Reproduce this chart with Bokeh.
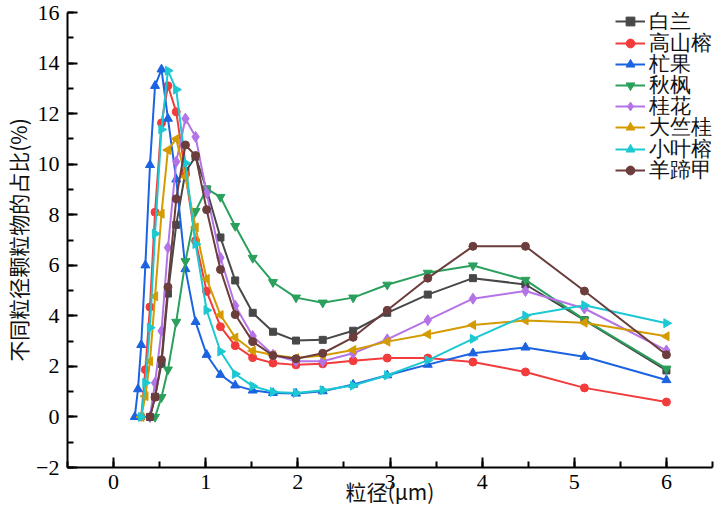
import numpy as np
from bokeh.plotting import figure
from bokeh.models import Range1d, Legend, LegendItem, FixedTicker
from bokeh.embed import file_html
from bokeh.resources import INLINE

# particle size grid (µm)
size_grid = [0.23, 0.265, 0.30, 0.345, 0.395, 0.45, 0.52, 0.59, 0.68, 0.78, 0.89,
             1.01, 1.16, 1.32, 1.51, 1.73, 1.98, 2.27, 2.60, 2.97, 3.41, 3.90,
             4.47, 5.11, 6.0]

# each series covers the tail of the grid
bailan = [0, 0.8, 2.1, 4.88, 7.6, 9.7, 10.3, 9.0, 7.1, 5.4, 4.12, 3.37, 3.02,
          3.05, 3.41, 4.12, 4.84, 5.49, 5.24, 3.83, 1.84]
gaoshanrong = [0, 1.87, 4.35, 8.1, 11.63, 13.1, 12.07, 9.6, 6.97, 4.97, 3.57, 2.82,
               2.35, 2.13, 2.06, 2.1, 2.22, 2.33, 2.33, 2.17, 1.78, 1.15, 0.59]
mangguo = [0, 1.1, 2.85, 6.0, 9.97, 13.1, 13.75, 11.8, 9.4, 5.85, 3.76, 2.46, 1.67,
           1.25, 1.05, 0.95, 0.93, 1.02, 1.28, 1.65, 2.07, 2.52, 2.75, 2.38, 1.46]
qiufeng = [0, 0.78, 1.87, 3.76, 6.16, 8.14, 9.03, 8.7, 7.55, 6.29, 5.33, 4.72, 4.52,
           4.72, 5.23, 5.7, 5.99, 5.42, 3.85, 1.91]
guihua = [0, 1.35, 3.4, 6.7, 10.1, 11.8, 11.08, 8.86, 6.3, 4.4, 3.2, 2.46, 2.2, 2.2,
          2.52, 3.07, 3.83, 4.68, 4.98, 4.29, 2.63]
dazhugui = [0, 0.82, 2.2, 4.77, 8.04, 10.56, 11.0, 9.5, 7.5, 5.46, 4.03, 3.14, 2.62,
            2.45, 2.33, 2.43, 2.65, 2.98, 3.27, 3.64, 3.82, 3.73, 3.19]
xiaoyerong = [0, 1.35, 3.53, 7.25, 11.37, 13.7, 12.95, 10.04, 6.84, 4.22, 2.59, 1.7,
              1.22, 0.99, 0.95, 1.06, 1.24, 1.65, 2.24, 3.09, 4.01, 4.42, 3.71]
yangtijia = [0, 0.78, 2.26, 5.14, 8.63, 10.76, 10.34, 8.2, 5.83, 4.05, 2.98, 2.43,
             2.3, 2.52, 3.15, 4.22, 5.49, 6.75, 6.75, 4.98, 2.46]

names = ["白兰", "高山榕", "杧果", "秋枫", "桂花", "大竺桂", "小叶榕", "羊蹄甲"]
series = [bailan, gaoshanrong, mangguo, qiufeng, guihua, dazhugui, xiaoyerong, yangtijia]
colors = ["#484848", "#f23c3c", "#1b63e0", "#2aa05c", "#b473e6", "#d49b00", "#1cc8d2", "#6b3d3d"]
markers = ["square", "circle", "triangle", "inverted_triangle", "diamond", "triangle", "triangle", "circle"]
angles = [0, 0, 0, 0, 0, np.pi / 2, -np.pi / 2, 0]
msizes = [7, 8, 9, 9, 11, 9, 9, 8]

x_ticks = [0, 1, 2, 3, 4, 5, 6]
y_ticks = [-2, 0, 2, 4, 6, 8, 10, 12, 14, 16]

W, H = 724, 512
B_TOP, B_BOTTOM = 12, 45
FRAME_H = H - B_TOP - B_BOTTOM

p = figure(width=W, height=H, output_backend="svg", toolbar_location=None,
           x_range=Range1d(-0.5, 6.5), y_range=Range1d(-2, 16),
           min_border_left=59, min_border_right=12, min_border_top=B_TOP,
           min_border_bottom=B_BOTTOM)
p.outline_line_color = None
p.xgrid.visible = False
p.ygrid.visible = False

# legend rows: one small legend per series so that rows sit close together
ROW_STEP = 21.2
ROW_BOX = 23
for i, (name, ys, c, m, a, s) in enumerate(zip(names, series, colors, markers, angles, msizes)):
    xs = size_grid[-len(ys):]
    r1 = p.line(xs, ys, line_color=c, line_width=2)
    r2 = p.scatter(xs, ys, marker=m, angle=a, size=s, fill_color=c, line_color=c)
    centre_from_top = 12 + ROW_STEP * i
    vy = int(round(FRAME_H - centre_from_top - ROW_BOX / 2))
    lg = Legend(items=[LegendItem(label=name, renderers=[r1, r2])],
                location=(548, vy), border_line_color=None,
                background_fill_alpha=0, padding=0, margin=0, spacing=0,
                glyph_width=30, glyph_height=22, label_height=22,
                label_standoff=4,
                label_text_font="Liberation Serif", label_text_font_size="21px",
                label_text_color="#111111")
    p.add_layout(lg, "center")

for ax in (p.xaxis[0], p.yaxis[0]):
    ax.axis_line_width = 2
    ax.axis_line_color = "black"
    ax.major_tick_in = 10
    ax.major_tick_out = 0
    ax.minor_tick_in = 6
    ax.minor_tick_out = 0
    ax.major_tick_line_width = 2
    ax.minor_tick_line_width = 2
    ax.major_label_text_font = "Liberation Serif"
    ax.major_label_text_font_size = "22px"
    ax.major_label_text_color = "black"
    ax.axis_label_text_font = "Noto Sans CJK SC"
    ax.axis_label_text_font_size = "21px"
    ax.axis_label_text_font_style = "normal"
    ax.axis_label_text_color = "#111111"

p.xaxis[0].ticker = FixedTicker(ticks=x_ticks, minor_ticks=[-0.5 + 0.5 * i for i in range(15)])
p.yaxis[0].ticker = FixedTicker(ticks=y_ticks, minor_ticks=list(range(-2, 17)))
p.xaxis.major_label_standoff = 7
p.yaxis.major_label_standoff = 8
p.xaxis.axis_label = "粒径(μm)"
p.yaxis.axis_label = "不同粒径颗粒物的占比(%)"
p.xaxis.axis_label_standoff = -16
p.yaxis.axis_label_standoff = 0

open("out.html", "w").write(file_html(p, INLINE))
